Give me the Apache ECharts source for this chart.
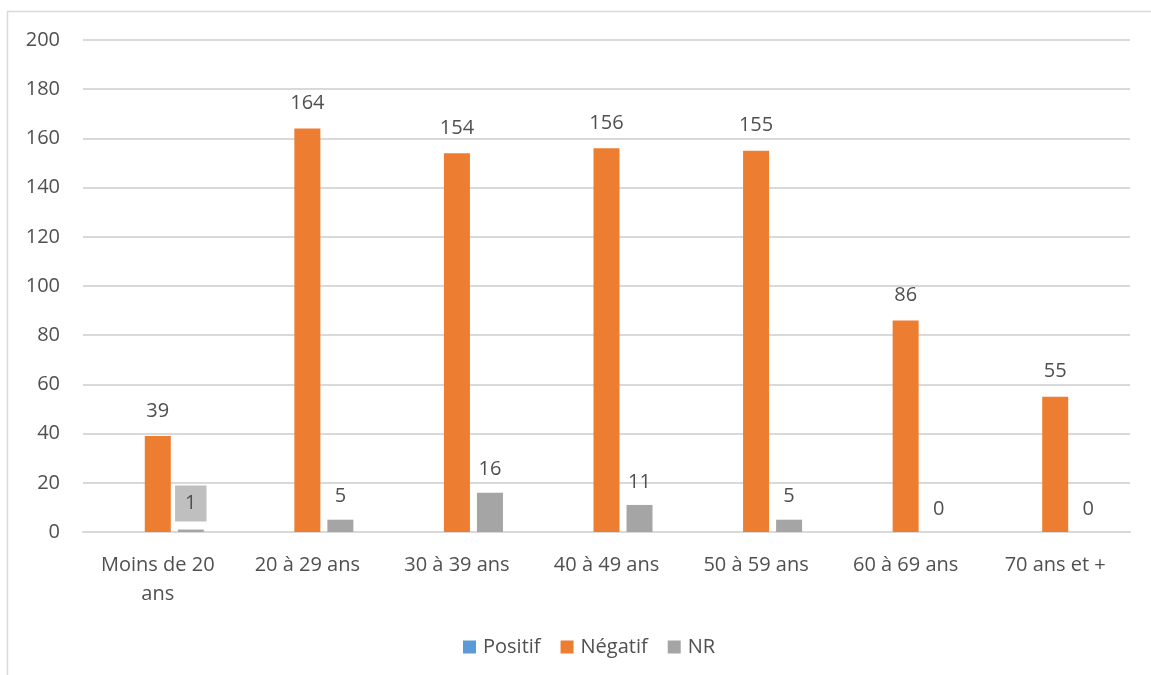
<!DOCTYPE html>
<html>
<head>
<meta charset="utf-8">
<script src="https://cdn.jsdelivr.net/npm/echarts@6/dist/echarts.min.js"></script>
<style>
  html, body { margin: 0; padding: 0; background: #ffffff; }
  #chart { width: 1151px; height: 675px; }
</style>
</head>
<body>
<div id="chart"></div>
<script>
// Age groups on the x axis
const categories = ['Moins de 20\nans', '20 à 29 ans', '30 à 39 ans', '40 à 49 ans', '50 à 59 ans', '60 à 69 ans', '70 ans et +'];
// Counts per result
const positif = [0, 0, 0, 0, 0, 0, 0];
const negatif = [39, 164, 154, 156, 155, 86, 55];
const nr = [1, 5, 16, 11, 5, 0, 0];
// Value axis
const yMin = 0, yMax = 200, yStep = 20;

const FONT = 'Open Sans';
const TEXT = '#505050';
const SIZE = 20;

const labelStyle = {
  show: true,
  position: 'top',
  distance: 13,
  color: TEXT,
  fontFamily: FONT,
  fontSize: SIZE
};

const chart = echarts.init(document.getElementById('chart'), null, { renderer: 'canvas' });

chart.setOption({
  animation: false,
  backgroundColor: '#ffffff',
  textStyle: { fontFamily: FONT, color: TEXT },
  graphic: [{
    type: 'rect',
    shape: { x: 7.5, y: 11.5, width: 1300, height: 800 },
    style: { fill: 'none', stroke: '#d9d9d9', lineWidth: 1.5 },
    silent: true,
    z: -10
  }],
  grid: { left: 83, right: 21, top: 40, bottom: 143, containLabel: false },
  legend: {
    bottom: 13,
    left: 458,
    itemWidth: 13,
    itemHeight: 13,
    itemGap: 20,
    icon: 'rect',
    textStyle: { fontFamily: FONT, fontSize: SIZE, color: TEXT, padding: [0, 0, 0, 2] },
    data: ['Positif', 'Négatif', 'NR']
  },
  xAxis: {
    type: 'category',
    data: categories,
    axisLine: { show: true, lineStyle: { color: '#d9d9d9', width: 2 } },
    axisTick: { show: false },
    axisLabel: {
      margin: 19,
      color: TEXT,
      fontFamily: FONT,
      fontSize: SIZE,
      lineHeight: 29,
      interval: 0
    }
  },
  yAxis: {
    type: 'value',
    min: yMin,
    max: yMax,
    interval: yStep,
    axisLine: { show: false },
    axisTick: { show: false },
    splitLine: { lineStyle: { color: '#d9d9d9', width: 2 } },
    axisLabel: { margin: 23, color: TEXT, fontFamily: FONT, fontSize: SIZE }
  },
  series: [
    {
      name: 'Positif',
      type: 'bar',
      data: positif,
      barWidth: 26,
      barGap: '27%',
      itemStyle: { color: '#5B9BD5' },
      label: { show: false }
    },
    {
      name: 'Négatif',
      type: 'bar',
      data: negatif,
      barWidth: 26,
      barGap: '27%',
      itemStyle: { color: '#ED7D31' },
      label: Object.assign({}, labelStyle, { distance: 15 })
    },
    {
      name: 'NR',
      type: 'bar',
      data: nr.map((v, i) => i === 0 ? {
        value: v,
        label: { backgroundColor: '#BFBFBF', padding: [8, 10, 8, 10], distance: 8 }
      } : v),
      barWidth: 26,
      barGap: '27%',
      itemStyle: { color: '#A5A5A5' },
      label: labelStyle
    }
  ]
});
</script>
</body>
</html>
